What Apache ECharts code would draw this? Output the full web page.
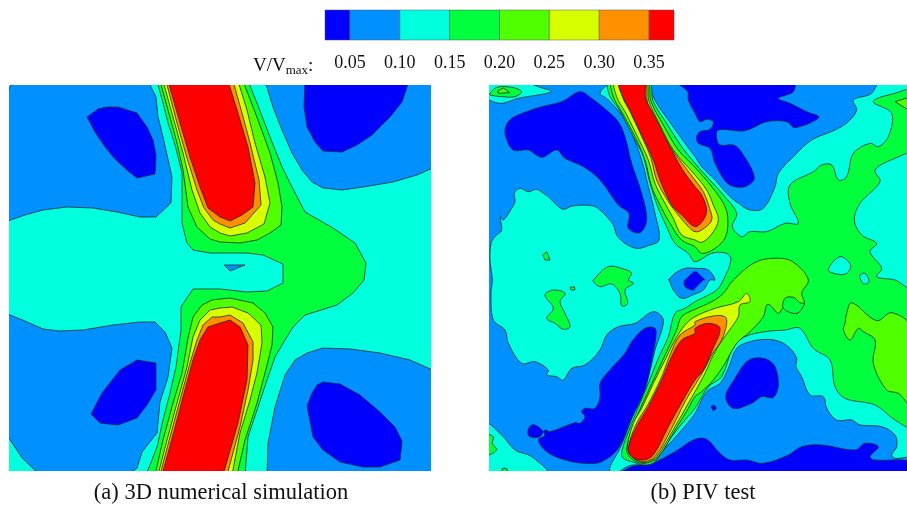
<!DOCTYPE html>
<html><head><meta charset="utf-8">
<style>html,body{margin:0;padding:0;background:#fff}#c{width:907px;height:507px;filter:blur(0.5px)}</style>
<script src="https://cdn.jsdelivr.net/npm/echarts@6/dist/echarts.min.js"></script>
</head><body><div id="c"></div>
<script>
// Colour bands and legend
const bandEdges = [0.025,0.05,0.10,0.15,0.20,0.25,0.30,0.35,0.375];
const bandColors = ['#0000ff','#0090ff','#00ffdc','#00ff3c','#50ff00','#d8ff00','#ff9000','#ff0000'];
const tickLabels = [0.05,0.10,0.15,0.20,0.25,0.30,0.35];
const captionA = '(a) 3D numerical simulation';
const captionB = '(b) PIV test';

// Panel (a): contour outlines, field units
const simBase = [9,85,431,85,431,471,9,471];
const simBlueTL = [13,85,148,85,156,97,158,117,163,137,172,177,171,203,156,217,140,217,117,212,93,208,67,207,43,210,25,215,9,222,9,97];
const simDarkTL = [87,117,98,109,107,107,118,107,137,113,147,127,153,140,156,155,155,174,137,178,128,171,115,159,105,147,95,132];
const simBlueTR = [265,85,273,107,282,130,292,153,302,170,312,182,323,188,342,190,363,187,393,182,417,175,431,167,431,85];
const simDarkTR = [305,85,304,107,307,127,315,142,323,151,342,152,357,145,372,135,390,117,402,102,409,85];
const simBlueBL = [9,313,25,321,43,329,60,331,83,330,113,325,140,322,155,322,165,332,172,348,168,377,160,402,157,433,142,452,137,468,127,471,40,471,22,458,9,432];
const simDarkBL = [137,360,156,363,156,390,147,405,137,418,118,425,100,423,91,414,102,393,120,370];
const simBlueBR = [267,471,268,443,275,407,285,375,295,360,307,353,323,348,350,349,380,353,410,360,431,371,431,471];
const simDarkBR = [317,385,323,382,340,384,360,395,380,412,395,427,402,441,400,460,380,467,363,467,340,462,323,450,313,437,307,406,312,393];
const simGreen = [157,85,163,103,168,123,175,145,182,173,182,223,187,243,193,250,210,253,220,253,247,253,263,255,283,264,283,283,267,291,247,292,220,289,193,289,181,307,181,330,176,367,170,393,163,420,157,447,146,471,245,471,248,437,257,410,267,380,275,357,285,340,293,327,305,315,337,305,353,293,364,280,366,263,355,243,333,228,305,212,295,193,282,167,270,137,257,103,248,85];
const simSliver = [224,265,245,265,230,271];
const simLimeTop = [160,85,168,110,177,143,183,170,188,207,197,227,210,239,220,242,240,243,257,240,270,233,281,225,282,207,278,183,270,153,258,120,243,85];
const simYellowTop = [163,85,173,117,183,153,192,190,200,213,210,227,220,233,230,236,247,233,264,224,270,203,265,177,255,143,247,110,238,85];
const simOrangeTop = [166,85,177,123,187,158,197,190,204,208,213,220,220,224,230,228,245,223,261,205,259,180,250,143,242,113,233,85];
const simRedTop = [168,85,180,123,190,157,200,187,208,208,220,217,230,221,242,215,253,207,255,183,248,147,238,113,228,85];
const simLimeBot = [155,471,163,440,173,403,182,373,188,338,193,317,202,305,212,300,220,299,230,298,253,303,265,313,273,327,272,345,265,373,257,403,245,440,237,471];
const simYellowBot = [158,471,167,440,177,403,187,367,193,337,200,320,210,310,220,308,232,307,248,313,261,325,262,343,257,373,250,400,240,433,232,471];
const simOrangeBot = [160,471,170,437,180,400,190,363,197,340,203,325,212,317,220,317,230,315,243,323,253,342,253,360,248,390,240,427,227,471];
const simRedBot = [162,471,173,435,183,397,193,360,200,340,208,327,220,323,230,320,240,327,248,345,247,380,238,423,223,471];
const simLayers = [[2,simBase],[1,simBlueTL],[0,simDarkTL],[1,simBlueTR],[0,simDarkTR],[1,simBlueBL],[0,simDarkBL],[1,simBlueBR],[0,simDarkBR],[3,simGreen],[1,simSliver],[4,simLimeTop],[5,simYellowTop],[6,simOrangeTop],[7,simRedTop],[4,simLimeBot],[5,simYellowBot],[6,simOrangeBot],[7,simRedBot]];

// Panel (b): contour outlines, four sheets a b / c d of field units
const sheets = {a:[0,0],b:[630,0],c:[0,600],d:[630,600]};
const pivBase = ['a',12,15,1266,15,1266,1173,12,1173];
const pivBlueWest = ['a',370,15,345,40,365,55,410,105,440,160,470,240,490,320,510,400,522,480,490,497,455,505,420,490,395,465,385,435,355,400,325,378,262,378,235,388,215,375,190,350,175,340,155,328,130,335,105,325,88,340,90,365,80,385,55,420,45,410,50,450,30,470,18,490,15,540,22,600,'c',18,40,25,120,60,150,70,190,110,250,150,245,190,270,185,285,215,290,235,300,260,265,300,255,345,210,365,165,400,140,450,130,505,95,535,120,510,210,490,290,460,360,435,430,405,505,375,560,370,573,12,573,'a',12,15];
const pivBlueNorth = ['a',495,15,510,60,550,120,600,190,630,230,'b',20,260,60,300,100,345,130,370,165,390,205,385,240,320,250,280,300,225,350,180,420,150,460,125,485,90,475,60,530,40,540,15];
const pivBlueSouth = ['c',400,573,430,558,490,550,540,505,590,450,630,400,'d',35,335,75,310,100,265,125,205,165,185,215,178,255,185,285,205,305,235,303,260,320,290,345,345,385,350,395,385,425,420,470,420,495,435,560,440,600,465,605,500,590,525,600,535,636,535,636,573];
const pivCyanNW = ['a',12,48,45,70,100,55,200,35,165,22,110,15,12,15];
const pivCyanSW = ['c',12,430,50,465,90,510,140,530,190,573,12,573];
const pivBlueSpot = ['a',550,600,570,580,600,565,630,565,'b',40,570,60,600,'d',45,0,25,30,0,42,'c',590,55,565,30,552,0];
const pivDarkSpot = ['a',600,600,630,575,'b',20,590,30,600,'d',25,0,0,25,'c',625,30,600,20,598,0];
const pivDarkWest = ['a',62,140,80,115,125,95,170,80,230,65,285,35,320,55,370,95,400,125,420,170,440,250,470,340,485,420,465,458,430,445,432,400,400,375,345,300,295,260,240,235,215,210,170,232,130,210,85,210,62,170];
const pivDarkNorth = ['a',575,15,608,35,610,60,630,100,'b',15,125,35,118,55,125,45,148,15,155,5,170,10,190,45,205,60,250,100,312,150,320,178,292,135,210,115,195,75,195,65,175,70,150,150,152,215,125,275,125,300,143,372,112,335,95,285,70,250,55,295,35,295,15];
const pivDarkSouthWest = ['c',510,145,480,145,440,185,420,220,370,275,345,310,345,350,330,385,300,385,290,395,300,410,285,430,270,428,195,455,180,450,165,470,135,470,128,455,140,435,160,440,180,465,160,480,185,515,240,540,300,550,350,545,400,505,440,415,480,330,500,240,512,175];
const pivDarkFloor = ['c',405,573,440,560,500,550,570,515,630,478,'d',35,478,75,520,105,540,155,540,205,550,280,525,320,500,380,495,480,510,510,490,550,500,525,530,540,540,636,545,636,573];
const pivDarkMid = ['d',150,250,175,235,215,238,240,260,250,315,235,352,200,350,170,370,115,385,92,350,120,295];
const pivDarkDot = ['d',48,380,57,375,65,385,55,392];
const pivGreenMain = ['a',372,15,373,45,400,85,440,160,475,230,495,310,520,385,545,440,570,490,610,520,630,545,'b',50,520,95,520,108,540,85,600,'d',65,30,20,55,0,65,'c',600,85,570,100,550,170,520,235,490,310,465,370,440,430,410,515,415,535,440,545,480,555,510,545,560,470,600,420,630,385,'d',40,320,80,290,115,200,150,170,210,155,270,150,315,145,355,205,405,240,420,320,450,355,540,375,600,420,636,438,'b',636,35,600,40,535,65,590,100,580,170,550,200,525,190,475,220,455,290,430,300,410,255,380,255,355,275,285,315,285,370,310,430,270,430,215,455,165,455,140,470,112,440,125,400,85,345,40,295,0,250,'a',590,200,545,130,505,65,490,15];
const pivGreenNW = ['a',15,40,35,22,80,22,110,35,90,50,50,50,15,45];
const pivGreenIsleA = ['c',180,45,205,30,240,40,225,65,240,100,255,140,235,148,210,130,185,115,205,85];
const pivGreenIsleB = ['a',325,600,370,560,420,568,440,580,430,600,'c',445,10,420,30,428,70,410,78,405,40,380,12,345,20,325,5];
const pivGreenIsleC = ['a',173,525,185,515,195,540,180,540];
const pivGreenIsleD = ['c',255,22,268,20,270,30,258,30];
const pivGreenIsleE = ['c',12,465,25,470,22,490,35,510,12,525];
const pivGreenIsleF = ['c',50,573,52,565,65,565,70,573];
const pivCyanEast = ['b',636,225,600,235,540,270,555,305,495,370,478,420,500,465,545,490,525,515,560,565,545,590,600,600,'d',636,22];
const pivCyanHole = ['b',400,570,435,530,467,555,455,580,430,583];
const pivCyanNick = ['b',495,585,510,580,522,600,'d',520,8,508,12,497,0];
const pivLimeNW = ['a',38,33,55,24,75,38,40,40];
const pivLimeJetTop = ['a',382,15,385,50,410,95,450,170,480,240,500,320,530,385,555,430,590,480,630,500,'b',20,520,60,505,92,470,98,410,85,370,50,320,0,262,'a',580,210,535,135,498,65,485,15];
const pivYellowJetTop = ['a',390,15,395,50,420,95,455,165,490,240,510,310,540,370,565,415,590,465,630,480,'b',20,487,48,465,70,420,55,375,35,330,0,285,'a',565,210,525,135,492,65,481,15];
const pivOrangeJetTop = ['a',403,15,412,50,435,95,468,165,498,235,515,300,550,365,580,405,610,440,630,455,'b',20,450,50,420,42,380,25,335,0,300,'a',555,200,515,125,488,70,478,15];
const pivRedJetTop = ['a',405,15,414,50,437,95,470,165,505,240,525,300,560,375,590,405,630,440,'b',25,420,35,390,20,345,0,320,'a',590,265,550,190,510,110,482,55,476,15];
const pivLimeJetBot = ['b',115,600,185,545,260,535,300,550,340,600,'d',320,40,328,70,305,100,265,85,250,100,225,75,215,75,205,110,165,155,125,190,90,250,55,300,20,335,0,350,'c',610,385,570,450,520,530,480,550,445,540,425,510,450,425,480,355,510,290,545,215,575,150,590,110,630,88,'d',50,65,85,40];
const pivLimeEast = ['d',470,68,545,122,590,98,636,142,636,375,610,340,575,330,535,250,540,180,505,155,490,145,465,180,445,150,450,130,455,100];
const pivLimeCorner = ['b',600,65,636,50,636,95];
const pivGreenPocket = ['d',270,55,295,52,315,68,328,72,305,100,265,85];
const pivYellowJetBot = ['d',165,65,155,40,130,65,60,85,0,110,'c',600,135,570,180,540,240,505,310,470,385,445,430,428,505,445,535,480,548,515,530,570,440,610,370,630,335,'d',30,280,60,215,100,155,130,110,135,75];
const pivOrangeJetBot = ['d',0,125,55,108,90,110,95,130,80,180,50,225,30,265,0,315,'c',600,365,560,445,510,530,475,545,440,530,430,505,452,435,488,375,528,295,555,225,585,165,630,135];
const pivRedJetBot = ['d',0,145,40,130,75,145,50,215,25,270,0,300,'c',600,350,550,440,505,525,475,540,440,530,430,505,455,440,490,380,530,300,560,230,590,180,630,160];
const pivLayers = [[2,pivBase],[1,pivBlueWest],[1,pivBlueNorth],[1,pivBlueSouth],[2,pivCyanNW],[2,pivCyanSW],[1,pivBlueSpot],[0,pivDarkSpot],[0,pivDarkWest],[0,pivDarkNorth],[0,pivDarkSouthWest],[0,pivDarkFloor],[0,pivDarkMid],[0,pivDarkDot],[3,pivGreenMain],[3,pivGreenNW],[3,pivGreenIsleA],[3,pivGreenIsleB],[3,pivGreenIsleC],[3,pivGreenIsleD],[3,pivGreenIsleE],[3,pivGreenIsleF],[2,pivCyanEast],[2,pivCyanHole],[2,pivCyanNick],[4,pivLimeNW],[4,pivLimeJetTop],[5,pivYellowJetTop],[6,pivOrangeJetTop],[7,pivRedJetTop],[4,pivLimeJetBot],[3,pivGreenPocket],[4,pivLimeEast],[4,pivLimeCorner],[5,pivYellowJetBot],[6,pivOrangeJetBot],[7,pivRedJetBot]];

function unfold(list){
  let off=[0,0]; const out=[];
  for(let i=0;i<list.length;){
    if(typeof list[i]==='string'){off=sheets[list[i]];i++;continue;}
    out.push([list[i]+off[0],list[i+1]+off[1]]);i+=2;
  }
  return out;
}
function pairs(list){const o=[];for(let i=0;i<list.length;i+=2)o.push([list[i],list[i+1]]);return o;}
// Outlines that touch the frame run past it, so the axis clip hides their stroke
function bleed(pts,x0,x1,y0,y1,m){
  return pts.map(p=>[p[0]<=x0?x0-m:p[0]>=x1?x1+m:p[0],p[1]<=y0?y0-m:p[1]>=y1?y1+m:p[1]]);
}
const simPolys = simLayers.map(l=>({band:l[0],pts:bleed(pairs(l[1]),9,431,85,471,4)}));
const pivPolys = pivLayers.map(l=>({band:l[0],pts:bleed(unfold(l[1]),12,1266,15,1173,12)}));

function contourRender(polys,smooth){
  return function(params,api){
    const p=polys[api.value(0)];
    return {type:'polygon',shape:{points:p.pts.map(q=>api.coord(q)),smooth:p.pts.length>4?smooth:0},
      style:{fill:bandColors[p.band],stroke:'#1c2b33',lineWidth:0.8}};
  };
}
const serif='"Liberation Serif","Times New Roman",serif';
function panelAxis(i,min,max,name,pad){
  return {gridIndex:i,type:'value',min,max,name,nameLocation:'middle',nameGap:11,
    nameTextStyle:{fontFamily:serif,fontSize:22.5,color:'#111',verticalAlign:'top',padding:[0,0,0,pad]},
    axisLine:{show:false},axisTick:{show:false},axisLabel:{show:false},splitLine:{show:false}};
}
function hiddenY(i,min,max,inverse){
  return {gridIndex:i,type:'value',min,max,inverse,show:false,splitLine:{show:false}};
}
const chart=echarts.init(document.getElementById('c'),null,{renderer:'canvas'});
chart.setOption({
  animation:false,backgroundColor:'#fff',
  title:{left:248,top:50,text:'{a|V/V}{s|max}{a|:}',textStyle:{fontWeight:'normal',rich:{
    a:{fontFamily:serif,fontSize:19,color:'#111',fontWeight:'normal'},
    s:{fontFamily:serif,fontSize:13,color:'#111',fontWeight:'normal',verticalAlign:'bottom',padding:[9,0,0,0]}}}},
  grid:[{left:9,top:85,width:422,height:386,outerBoundsMode:'none'},{left:489,top:85,width:418,height:386,outerBoundsMode:'none'},{left:325,top:10,width:349,height:30,outerBoundsMode:'none'}],
  xAxis:[panelAxis(0,9,431,captionA,2),panelAxis(1,12,1266,captionB,10),
    {gridIndex:2,type:'value',min:0.025,max:0.375,axisLine:{show:false},axisTick:{show:false},splitLine:{show:false},
     axisLabel:{customValues:tickLabels,formatter:v=>v.toFixed(2),margin:14,fontFamily:serif,fontSize:18,color:'#111'}}],
  yAxis:[hiddenY(0,85,471,true),hiddenY(1,15,1173,true),hiddenY(2,0,1,false)],
  series:[
    {type:'custom',xAxisIndex:0,yAxisIndex:0,clip:true,silent:true,data:simPolys.map((_,i)=>[i]),encode:{x:-1,y:-1},renderItem:contourRender(simPolys,0)},
    {type:'custom',xAxisIndex:1,yAxisIndex:1,clip:true,silent:true,data:pivPolys.map((_,i)=>[i]),encode:{x:-1,y:-1},renderItem:contourRender(pivPolys,0.35)},
    {type:'custom',xAxisIndex:2,yAxisIndex:2,silent:true,data:bandColors.map((_,i)=>[i]),encode:{x:-1,y:-1},
     renderItem:(p,api)=>{const i=api.value(0);const a=api.coord([bandEdges[i],1]),b=api.coord([bandEdges[i+1],0]);
       return {type:'rect',shape:{x:a[0],y:a[1],width:b[0]-a[0],height:b[1]-a[1]},style:{fill:bandColors[i],stroke:'#556',lineWidth:0.5}};}}
  ]
});
</script></body></html>
